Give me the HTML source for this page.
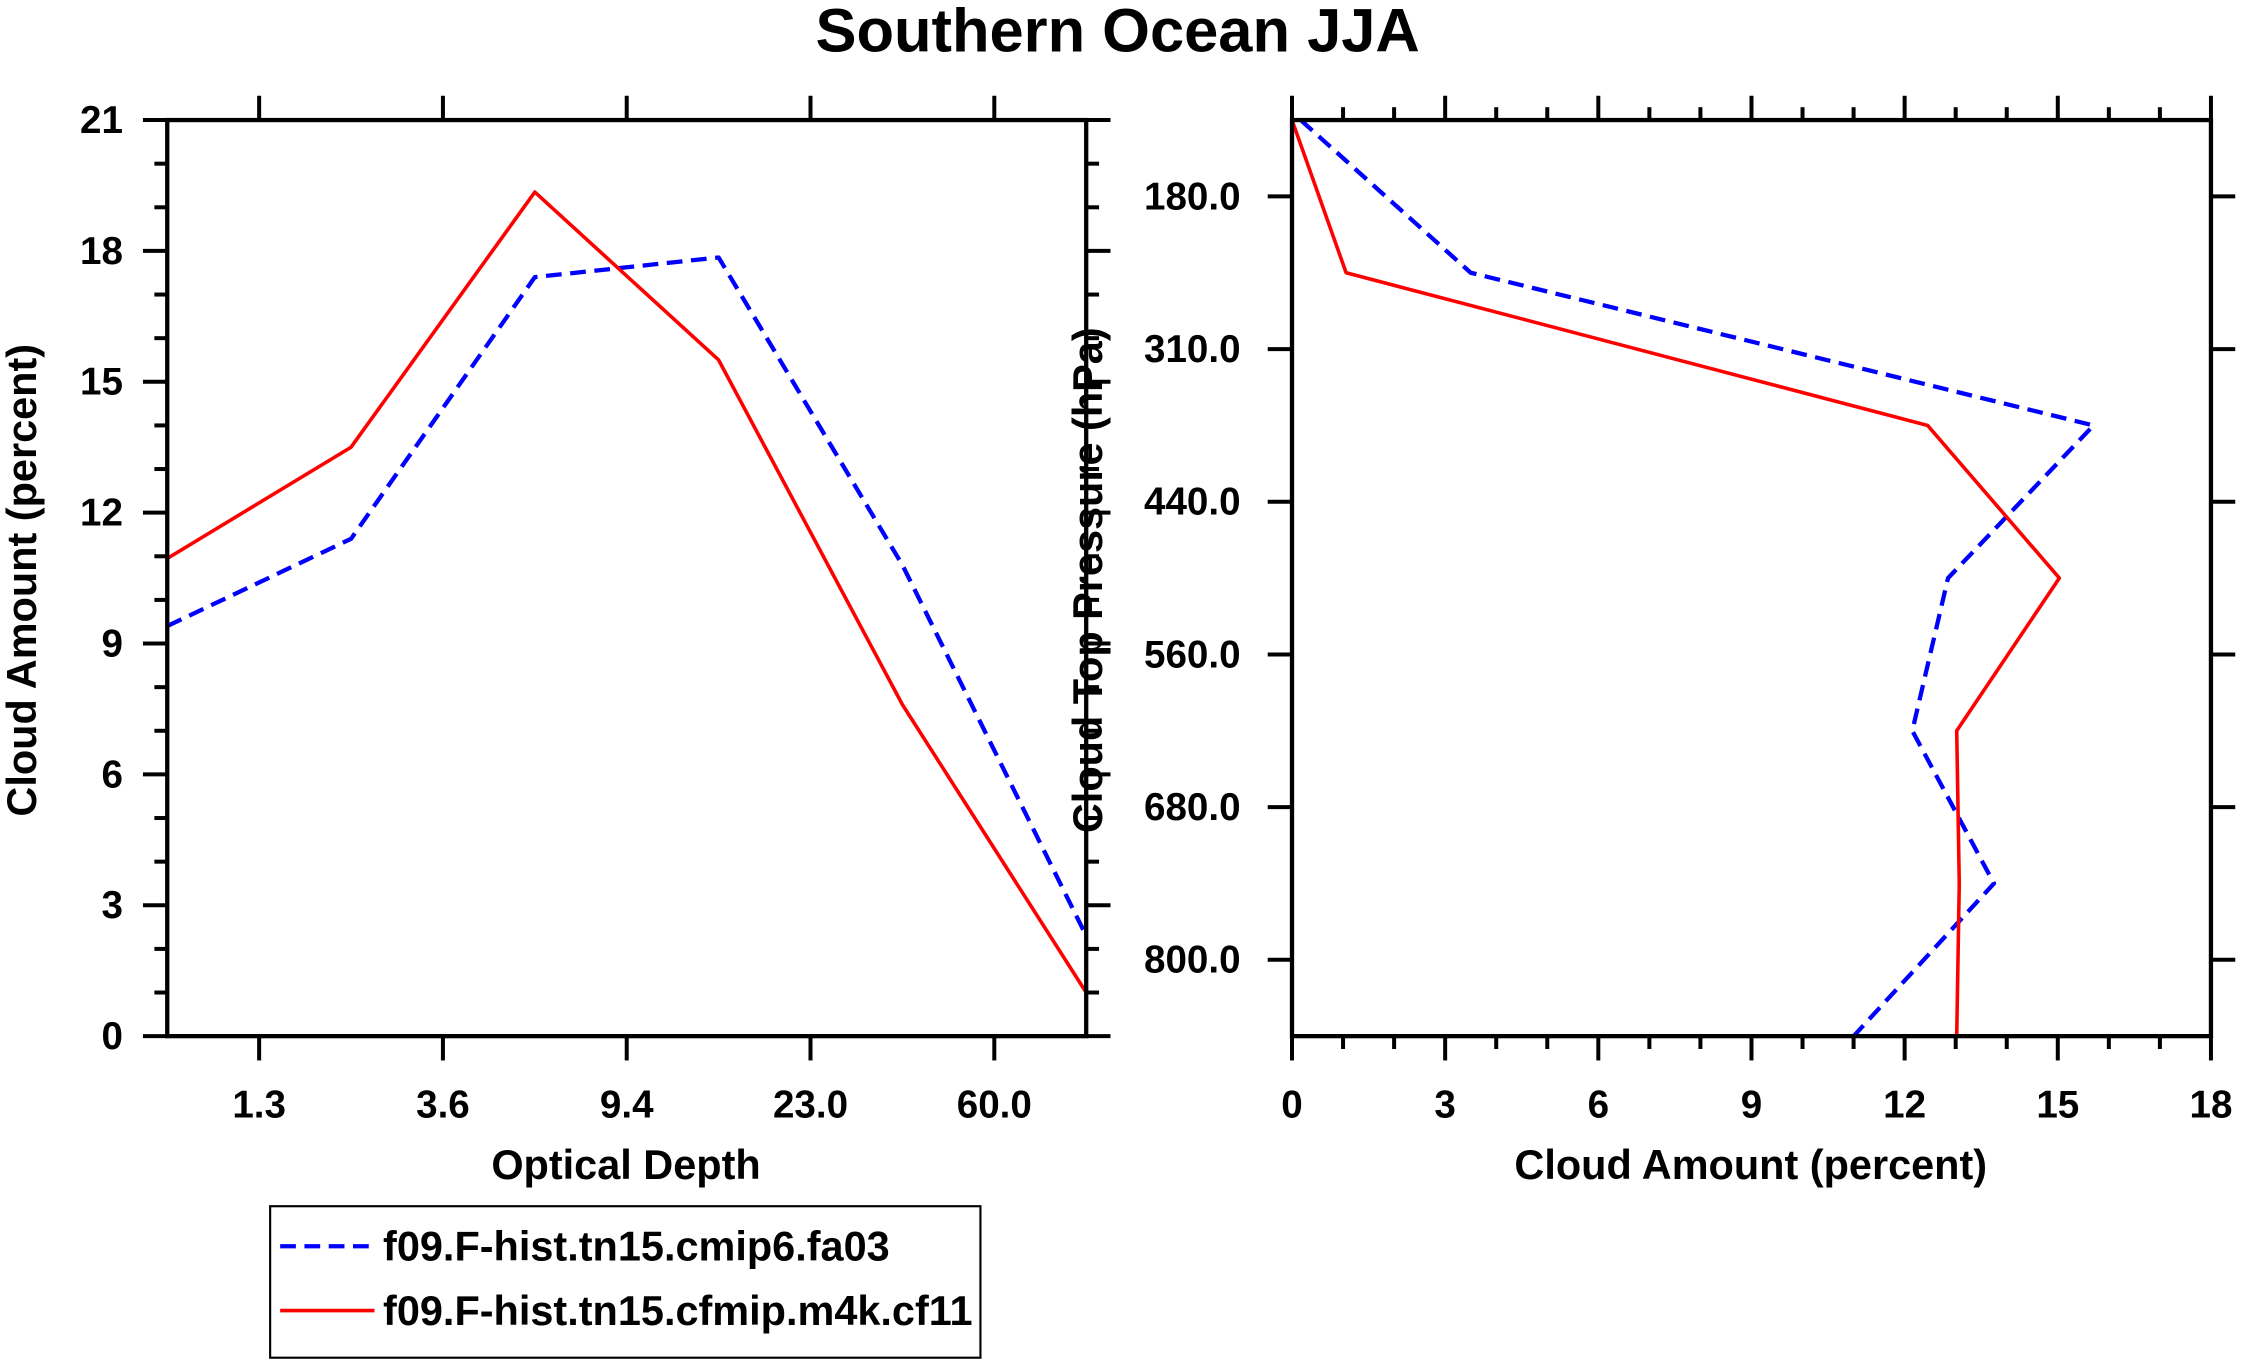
<!DOCTYPE html>
<html><head><meta charset="utf-8"><style>
html,body{margin:0;padding:0;background:#fff}
svg{display:block}
text{font-family:"Liberation Sans",Arial,sans-serif;font-weight:bold;fill:#000}
</style></head><body>
<svg id="chart" width="2241" height="1367" viewBox="0 0 1568 956.5" xmlns="http://www.w3.org/2000/svg">
<text x="782" y="36" font-size="43" text-anchor="middle">Southern Ocean JJA</text>
<g id="left"></g>
<g id="right"></g>
<g>
<rect x="189" y="844" width="497" height="106" fill="none" stroke="#000" stroke-width="1.5"/>
<line x1="196" y1="872" x2="262" y2="872" stroke="#0000ff" stroke-width="3" stroke-dasharray="11,6"/>
<text x="268" y="882" font-size="29">f09.F-hist.tn15.cmip6.fa03</text>
<line x1="196" y1="917" x2="262" y2="917" stroke="#ff0000" stroke-width="2.5"/>
<text x="268" y="927" font-size="29">f09.F-hist.tn15.cfmip.m4k.cf11</text>
</g>
</svg>
<script>
// Left panel data: cloud amount vs optical depth bins
const odTickLabels = ["1.3","3.6","9.4","23.0","60.0"];
const leftYTicks = [0,3,6,9,12,15,18,21];
const leftBlue = [9.4,11.4,17.4,17.85,10.8,2.3];
const leftRed = [10.95,13.5,19.35,15.5,7.6,1.0];
// Right panel data: cloud amount vs pressure level
const pTickLabels = ["180.0","310.0","440.0","560.0","680.0","800.0"];
const rightXTicks = [0,3,6,9,12,15,18];
const rightBlue = [0.17,3.5,15.7,12.85,12.15,13.75,11.0];
const rightRed = [0,1.06,12.45,15.03,13.02,13.07,13.02];

const NS="http://www.w3.org/2000/svg";
function mk(parent,tag,attrs){const e=document.createElementNS(NS,tag);for(const k in attrs)e.setAttribute(k,attrs[k]);parent.appendChild(e);return e;}
const L=document.getElementById('left'), R=document.getElementById('right');
const TF=27, AF=29;

// ---- left panel
const lx0=117,lx1=760,ly0=84,ly1=725;
const lxs=i=>lx0+(lx1-lx0)*i/5;
const lys=v=>ly1-(ly1-ly0)*v/21;
for(let v=0;v<=21;v++){
  const major=v%3===0, len=major?17:9;
  let t=mk(L,'line',{x1:lx0-len,x2:lx0,y1:lys(v),y2:lys(v),stroke:'#000','stroke-width':2.8});
  
  
  t=mk(L,'line',{x1:lx1,x2:lx1+len,y1:lys(v),y2:lys(v),stroke:'#000','stroke-width':2.8});
  
  
}
leftYTicks.forEach(v=>{
  const t=mk(L,'text',{x:lx0-31,y:lys(v)+9,'font-size':TF,'text-anchor':'end'});t.textContent=v;
  
  
});
odTickLabels.forEach((s,i)=>{
  const x=lxs(i+0.5);
  let t=mk(L,'line',{x1:x,x2:x,y1:ly1,y2:ly1+17,stroke:'#000','stroke-width':2.8});
  
  
  t=mk(L,'line',{x1:x,x2:x,y1:ly0-17,y2:ly0,stroke:'#000','stroke-width':2.8});
  
  
  t=mk(L,'text',{x:x,y:ly1+57,'font-size':TF,'text-anchor':'middle'});t.textContent=s;
  
  
});
function poly(g,vals,xs,ys,color,dash,w,name){
  const pts=vals.map((v,i)=>xs(i,v)+','+ys(i,v)).join(' ');
  const p=mk(g,'polyline',{points:pts,fill:'none',stroke:color,'stroke-width':w,'stroke-linejoin':'round'});
  if(dash)p.setAttribute('stroke-dasharray',dash);
  
  
}
poly(L,leftBlue,(i)=>lxs(i),(i,v)=>lys(v),'#0000ff','11,6',3,'left-series-cmip6');
poly(L,leftRed,(i)=>lxs(i),(i,v)=>lys(v),'#ff0000',null,2.5,'left-series-m4k');
let fr=mk(L,'rect',{x:lx0,y:ly0,width:lx1-lx0,height:ly1-ly0,fill:'none',stroke:'#000','stroke-width':3});


let tt=mk(L,'text',{x:438,y:825,'font-size':AF,'text-anchor':'middle'});tt.textContent='Optical Depth';


tt=mk(L,'text',{x:0,y:0,'font-size':AF,'text-anchor':'middle',transform:'translate(25,406) rotate(-90)'});tt.textContent='Cloud Amount (percent)';



// ---- right panel
const rx0=904,rx1=1547,ry0=84,ry1=725;
const rxs=v=>rx0+(rx1-rx0)*v/18;
const rys=i=>ry0+(ry1-ry0)*i/6;
for(let v=0;v<=18;v++){
  const major=v%3===0, len=major?17:9;
  let t=mk(R,'line',{x1:rxs(v),x2:rxs(v),y1:ry1,y2:ry1+len,stroke:'#000','stroke-width':2.8});
  
  
  t=mk(R,'line',{x1:rxs(v),x2:rxs(v),y1:ry0-len,y2:ry0,stroke:'#000','stroke-width':2.8});
  
  
}
rightXTicks.forEach(v=>{
  const t=mk(R,'text',{x:rxs(v),y:ry1+57,'font-size':TF,'text-anchor':'middle'});t.textContent=v;
  
  
});
pTickLabels.forEach((s,i)=>{
  const y=rys(i+0.5);
  let t=mk(R,'line',{x1:rx0-17,x2:rx0,y1:y,y2:y,stroke:'#000','stroke-width':2.8});
  
  
  t=mk(R,'line',{x1:rx1,x2:rx1+17,y1:y,y2:y,stroke:'#000','stroke-width':2.8});
  
  
  t=mk(R,'text',{x:rx0-36,y:y+9,'font-size':TF,'text-anchor':'end'});t.textContent=s;
  
  
});
poly(R,rightBlue,(i,v)=>rxs(v),(i)=>rys(i),'#0000ff','11,6',3,'right-series-cmip6');
poly(R,rightRed,(i,v)=>rxs(v),(i)=>rys(i),'#ff0000',null,2.5,'right-series-m4k');
fr=mk(R,'rect',{x:rx0,y:ry0,width:rx1-rx0,height:ry1-ry0,fill:'none',stroke:'#000','stroke-width':3});


tt=mk(R,'text',{x:1225,y:825,'font-size':AF,'text-anchor':'middle'});tt.textContent='Cloud Amount (percent)';


tt=mk(R,'text',{x:0,y:0,'font-size':AF,'text-anchor':'middle',transform:'translate(771,406) rotate(-90)'});tt.textContent='Cloud Top Pressure (hPa)';


</script>
</body></html>
